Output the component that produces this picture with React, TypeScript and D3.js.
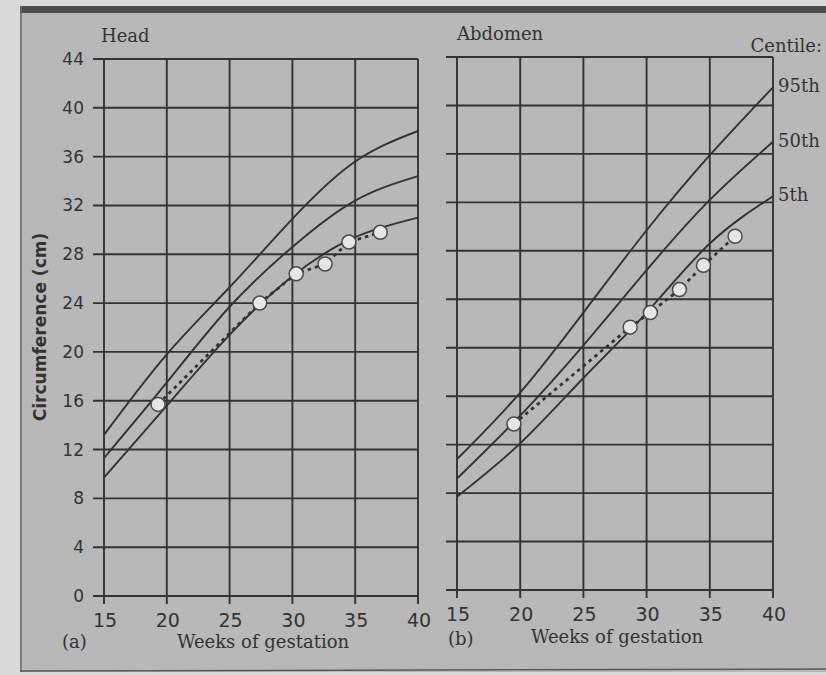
import React from "react";
import * as d3 from "d3";

// Gestational age (weeks) at which the centile curves are tabulated
const weeks = [15, 20, 25, 30, 35, 40];

// Head circumference centiles (cm)
const head95 = [13.2, 19.8, 25.3, 30.9, 35.6, 38.1];
const head50 = [11.3, 17.5, 23.7, 28.6, 32.4, 34.4];
const head5 = [9.7, 15.6, 21.4, 26.2, 29.4, 31.0];

// Abdominal circumference centiles (cm)
const abd95 = [10.8, 16.3, 22.9, 29.7, 35.9, 41.5];
const abd50 = [9.2, 14.4, 20.2, 26.4, 32.2, 37.0];
const abd5 = [7.7, 12.1, 17.5, 22.9, 28.6, 32.5];

// Serial scan measurements of one fetus
const headScanWeeks = [19.3, 27.4, 30.3, 32.6, 34.5, 37.0];
const headScanCm = [15.7, 24.0, 26.4, 27.2, 29.0, 29.8];
const abdScanWeeks = [19.5, 28.7, 30.3, 32.6, 34.5, 37.0];
const abdScanCm = [13.7, 21.7, 22.9, 24.8, 26.8, 29.2];

const xTicks = [15, 20, 25, 30, 35, 40];
const yTicks = [0, 4, 8, 12, 16, 20, 24, 28, 32, 36, 40, 44];
const centileLabels = ["95th", "50th", "5th"];

const INK = "#333333";
const PAPER = "#b8b8b8";
const SERIF = "'DejaVu Serif', serif";
const SANS = "'DejaVu Sans', sans-serif";

type PanelProps = {
  x0: number;
  x1: number;
  yBottom: number;
  yTop: number;
  centiles: number[][];
  scanWeeks: number[];
  scanCm: number[];
  showYLabels: boolean;
  showCentileLabels: boolean;
};

function Panel(p: PanelProps) {
  const x = d3.scaleLinear().domain([15, 40]).range([p.x0, p.x1]);
  const y = d3.scaleLinear().domain([0, 44]).range([p.yBottom, p.yTop]);

  const curve = d3
    .line<[number, number]>()
    .x((d) => x(d[0]))
    .y((d) => y(d[1]))
    .curve(d3.curveNatural);

  const scanLine = d3
    .line<[number, number]>()
    .x((d) => x(d[0]))
    .y((d) => y(d[1]));

  const scanPts: [number, number][] = p.scanWeeks.map((w, i) => [w, p.scanCm[i]]);

  return (
    <g>
      {/* grid */}
      {xTicks.map((t) => (
        <line
          key={"v" + t}
          x1={x(t)}
          x2={x(t)}
          y1={y(44)}
          y2={y(0) + 8}
          stroke={INK}
          strokeWidth={1.9}
        />
      ))}
      {yTicks.map((t) => (
        <line
          key={"h" + t}
          x1={x(15) - 11}
          x2={x(40)}
          y1={y(t)}
          y2={y(t)}
          stroke={INK}
          strokeWidth={1.9}
        />
      ))}

      {/* y tick labels */}
      {p.showYLabels &&
        yTicks.map((t) => (
          <text
            key={"yl" + t}
            x={x(15) - 20}
            y={y(t) + 6}
            textAnchor="end"
            fontFamily={SANS}
            fontSize={17}
            fill={INK}
          >
            {t}
          </text>
        ))}

      {/* x tick labels */}
      {xTicks.map((t) => (
        <text
          key={"xl" + t}
          x={x(t) + 1}
          y={y(0) + 31}
          textAnchor="middle"
          fontFamily={SANS}
          fontSize={19}
          fill={INK}
        >
          {t}
        </text>
      ))}

      {/* centile curves */}
      {p.centiles.map((vals, i) => (
        <path
          key={"c" + i}
          d={curve(weeks.map((w, j) => [w, vals[j]] as [number, number])) || ""}
          fill="none"
          stroke={INK}
          strokeWidth={1.9}
        />
      ))}

      {p.showCentileLabels &&
        p.centiles.map((vals, i) => (
          <text
            key={"cl" + i}
            x={x(40) + 5}
            y={y(vals[vals.length - 1]) + 5}
            fontFamily={SERIF}
            fontSize={18}
            fill={INK}
          >
            {centileLabels[i]}
          </text>
        ))}

      {/* serial measurements */}
      <path
        d={scanLine(scanPts) || ""}
        fill="none"
        stroke={INK}
        strokeWidth={2.8}
        strokeDasharray="3.5 4"
      />
      {scanPts.map((d, i) => (
        <circle
          key={"s" + i}
          cx={x(d[0])}
          cy={y(d[1])}
          r={7}
          fill="#e6e6e6"
          stroke="#4a4a4a"
          strokeWidth={1.5}
        />
      ))}
    </g>
  );
}

export default function App() {
  return (
    <svg
      width={826}
      height={675}
      style={{ position: "absolute", left: 0, top: 0, display: "block" }}
    >
      {/* page */}
      <rect x={0} y={0} width={826} height={675} fill="#dadada" />
      <rect x={20} y={6} width={806} height={666} fill={PAPER} />
      <rect x={20} y={6} width={806} height={7} fill="#4c4c4c" />
      <line x1={21} x2={21} y1={6} y2={672} stroke="#6a6a6a" strokeWidth={1.5} />
      <line x1={20} x2={826} y1={671} y2={669} stroke="#5a5a5a" strokeWidth={1.5} />

      <Panel
        x0={104}
        x1={418}
        yBottom={596}
        yTop={59}
        centiles={[head95, head50, head5]}
        scanWeeks={headScanWeeks}
        scanCm={headScanCm}
        showYLabels={true}
        showCentileLabels={false}
      />
      <Panel
        x0={457}
        x1={773}
        yBottom={590}
        yTop={57}
        centiles={[abd95, abd50, abd5]}
        scanWeeks={abdScanWeeks}
        scanCm={abdScanCm}
        showYLabels={false}
        showCentileLabels={true}
      />

      {/* titles */}
      <text x={101} y={42} fontFamily={SERIF} fontSize={18} fill={INK}>
        Head
      </text>
      <text x={457} y={40} fontFamily={SERIF} fontSize={18} fill={INK}>
        Abdomen
      </text>
      <text x={822} y={52} textAnchor="end" fontFamily={SERIF} fontSize={18} fill={INK}>
        Centile:
      </text>

      {/* axis titles */}
      <text
        transform="translate(46,327) rotate(-90)"
        textAnchor="middle"
        fontFamily={SANS}
        fontWeight="bold"
        fontSize={17}
        fill={INK}
      >
        Circumference (cm)
      </text>
      <text x={62} y={648} fontFamily={SERIF} fontSize={18} fill={INK}>
        (a)
      </text>
      <text x={263} y={648} textAnchor="middle" fontFamily={SERIF} fontSize={18} fill={INK}>
        Weeks of gestation
      </text>
      <text x={448} y={645} fontFamily={SERIF} fontSize={18} fill={INK}>
        (b)
      </text>
      <text x={617} y={643} textAnchor="middle" fontFamily={SERIF} fontSize={18} fill={INK}>
        Weeks of gestation
      </text>
    </svg>
  );
}
